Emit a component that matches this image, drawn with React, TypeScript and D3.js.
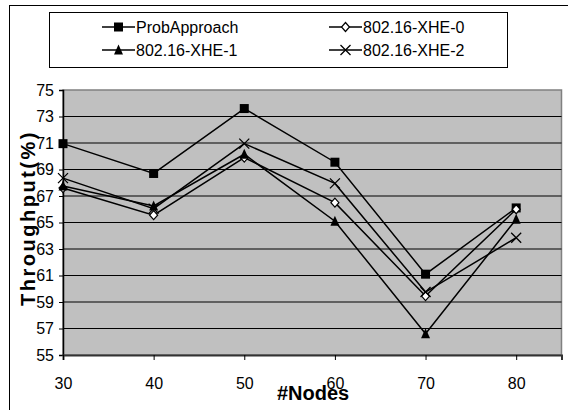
import { useEffect, useRef } from "react";
import * as d3 from "d3";

// datos
const nodes = [30, 40, 50, 60, 70, 80];
const seriesNames = ["ProbApproach", "802.16-XHE-0", "802.16-XHE-1", "802.16-XHE-2"];
const probApproach = [70.95, 68.7, 73.6, 69.55, 61.1, 66.1];
const xhe0 = [67.6, 65.55, 69.9, 66.5, 59.45, 66.0];
const xhe1 = [67.75, 66.25, 70.15, 65.1, 56.6, 65.25];
const xhe2 = [68.35, 66.05, 70.95, 67.95, 59.75, 63.85];
const yTicks = [55, 57, 59, 61, 63, 65, 67, 69, 71, 73, 75];

const markerTypes = ["square", "diamond", "triangle", "cross"];

export default function App() {
  const ref = useRef<SVGSVGElement>(null);

  useEffect(() => {
    if (!ref.current) return;
    const svg = d3.select(ref.current);
    svg.selectAll("*").remove();

    const font = "'Liberation Sans', Arial, sans-serif";
    const left = 63;
    const right = 561.5;
    const top = 90;
    const bottom = 355;

    const x = d3.scaleLinear().domain([30, 85]).range([left, right]);
    const y = d3.scaleLinear().domain([55, 75]).range([bottom, top]);

    // marco exterior
    svg
      .append("rect")
      .attr("x", 9.5)
      .attr("y", 5.5)
      .attr("width", 600)
      .attr("height", 500)
      .attr("fill", "#fff")
      .attr("stroke", "#000")
      .attr("stroke-width", 1);

    // área del gráfico
    svg
      .append("rect")
      .attr("x", left)
      .attr("y", top)
      .attr("width", right - left)
      .attr("height", bottom - top)
      .attr("fill", "#c0c0c0")
      .attr("stroke", "#808080")
      .attr("stroke-width", 1.5);

    // líneas de cuadrícula
    svg
      .append("g")
      .selectAll("line")
      .data(yTicks.filter((t) => t > 55 && t < 75))
      .enter()
      .append("line")
      .attr("x1", left)
      .attr("x2", right)
      .attr("y1", (d) => y(d))
      .attr("y2", (d) => y(d))
      .attr("stroke", "#000")
      .attr("stroke-width", 1);

    // eje Y
    const yAxis = svg
      .append("g")
      .attr("transform", `translate(${left},0)`)
      .call(d3.axisLeft(y).tickValues(yTicks).tickSize(4).tickPadding(5).tickFormat(d3.format("d")));
    yAxis.select(".domain").attr("stroke", "#000").attr("stroke-width", 1.5);
    yAxis.selectAll("text").attr("font-family", font).attr("font-size", 16).attr("fill", "#000");

    // eje X
    const xAxis = svg
      .append("g")
      .attr("transform", `translate(0,${bottom})`)
      .call(d3.axisBottom(x).tickValues(nodes).tickSize(5).tickPadding(18).tickFormat(d3.format("d")));
    xAxis.select(".domain").attr("stroke", "#333").attr("stroke-width", 2);
    xAxis.selectAll("text").attr("font-family", font).attr("font-size", 16).attr("fill", "#000");

    // títulos
    svg
      .append("text")
      .attr("transform", "translate(35,218) rotate(-90)")
      .attr("text-anchor", "middle")
      .attr("font-family", font)
      .attr("font-weight", "bold")
      .attr("font-size", 20)
      .attr("letter-spacing", 2.5)
      .text("Throughput(%)");

    svg
      .append("text")
      .attr("x", 313)
      .attr("y", 400)
      .attr("text-anchor", "middle")
      .attr("font-family", font)
      .attr("font-weight", "bold")
      .attr("font-size", 20)
      .text("#Nodes");

    const drawMarker = (g: d3.Selection<SVGGElement, unknown, null, undefined>, type: string) => {
      if (type === "square") {
        g.append("rect").attr("x", -4.5).attr("y", -4.5).attr("width", 9).attr("height", 9).attr("fill", "#000");
      } else if (type === "diamond") {
        g.append("path").attr("d", "M0,-4.5L4,0L0,4.5L-4,0Z").attr("fill", "#fff").attr("stroke", "#000").attr("stroke-width", 1.2);
      } else if (type === "triangle") {
        g.append("path").attr("d", "M0,-5.5L4.5,4.5L-4.5,4.5Z").attr("fill", "#000");
      } else {
        g.append("path").attr("d", "M-5,-5L5,5M-5,5L5,-5").attr("stroke", "#000").attr("stroke-width", 1.3).attr("fill", "none");
      }
    };

    const allSeries = [probApproach, xhe0, xhe1, xhe2];
    const line = d3
      .line<number>()
      .x((_, i) => x(nodes[i]))
      .y((d) => y(d));

    allSeries.forEach((vals, si) => {
      svg
        .append("path")
        .datum(vals)
        .attr("d", line)
        .attr("fill", "none")
        .attr("stroke", "#000")
        .attr("stroke-width", 1.5);
    });
    allSeries.forEach((vals, si) => {
      vals.forEach((v, i) => {
        const g = svg.append("g").attr("transform", `translate(${x(nodes[i])},${y(v)})`);
        drawMarker(g, markerTypes[si]);
      });
    });

    // leyenda
    svg
      .append("rect")
      .attr("x", 49.5)
      .attr("y", 12.5)
      .attr("width", 458)
      .attr("height", 55)
      .attr("fill", "#fff")
      .attr("stroke", "#000")
      .attr("stroke-width", 1);

    const legendPos = [
      { lx: 102, ty: 27 },
      { lx: 329, ty: 27 },
      { lx: 102, ty: 50 },
      { lx: 329, ty: 50 },
    ];
    seriesNames.forEach((name, i) => {
      const p = legendPos[i];
      const g = svg.append("g");
      g.append("line")
        .attr("x1", p.lx)
        .attr("x2", p.lx + 33)
        .attr("y1", p.ty)
        .attr("y2", p.ty)
        .attr("stroke", "#000")
        .attr("stroke-width", 1.5);
      const m = g.append("g").attr("transform", `translate(${p.lx + 16.5},${p.ty})`);
      drawMarker(m, markerTypes[i]);
      g.append("text")
        .attr("x", p.lx + 34)
        .attr("y", p.ty + 6)
        .attr("font-family", font)
        .attr("font-size", 16)
        .text(name);
    });
  }, []);

  return (
    <svg
      ref={ref}
      width={568}
      height={410}
      style={{ position: "absolute", left: 0, top: 0, background: "#fff" }}
    />
  );
}
